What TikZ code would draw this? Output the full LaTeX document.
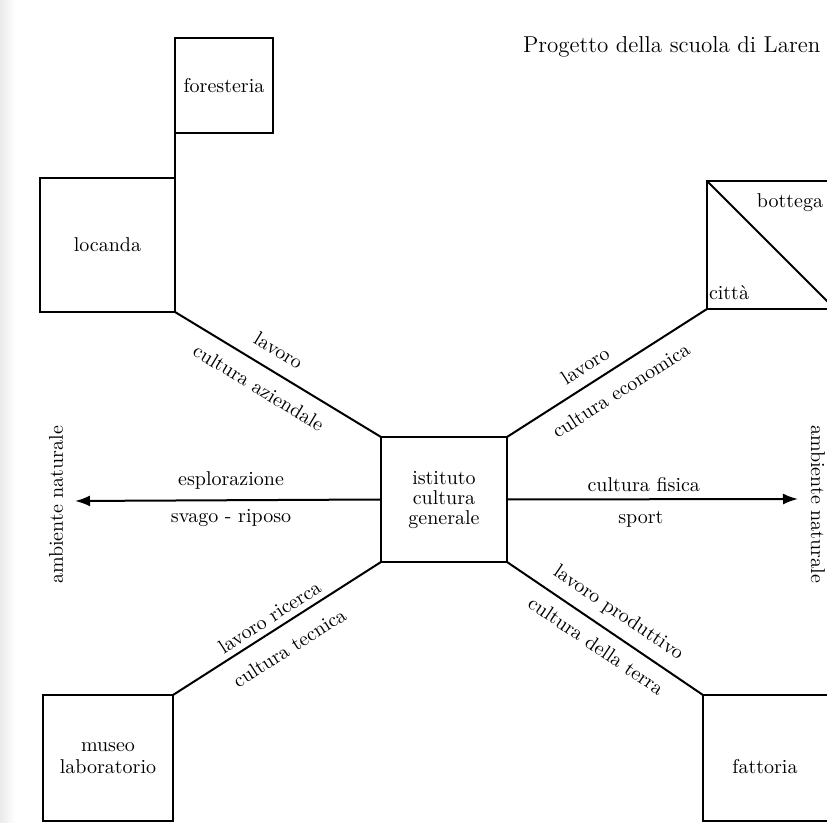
\documentclass[tikz,border=0pt]{standalone}
\usepackage{amsmath}
\usetikzlibrary{arrows.meta}

\begin{document}
\begin{tikzpicture}[x=0.5pt,y=-0.5pt,line width=1pt,
		casella/.style={draw,line width=1.1pt,inner sep=0pt,outer sep=0pt,align=center},
		voce/.style={inner sep=1pt},
		freccia/.style={-{Latex[length=7.5pt,width=5.5pt]}}]
		\useasboundingbox (0,0) rectangle (827,823);
		\clip (0,0) rectangle (827,823);
		\shade[left color=black!8,right color=white] (0,0) rectangle (15,823);

		% titolo
		\node[anchor=base east,font=\fontsize{11.5}{13}\selectfont] (titolo) at (828,53) {Progetto della scuola di Laren};

		% caselle
		\node[casella,minimum width=49pt,minimum height=47.5pt] (foresteria) at (224,85.5) {foresteria};
		\node[casella,minimum width=67.5pt,minimum height=67pt] (locanda) at (107.5,245) {locanda};
		\node[casella,minimum width=63pt,minimum height=62.5pt,font=\fontsize{10}{10}\selectfont] (istituto) at (444,499.5) {istituto\\cultura\\generale};
		\node[casella,minimum width=64pt,minimum height=64pt] (bottega) at (771,245) {};
		\node[casella,minimum width=65pt,minimum height=63pt,font=\fontsize{10}{11}\selectfont] (museo) at (108,758) {museo\\laboratorio};
		\node[casella,minimum width=66pt,minimum height=63pt] (fattoria) at (769,758) {};
		\node[voce] (bottegatxt) at (790,203) {bottega};
		\node[voce] (citta) at (729,293) {città};
		\node[voce] (fattoriatxt) at (765,767) {fattoria};
		\node[voce,rotate=90] (ambovest) at (56,505) {ambiente naturale};
		\node[voce,rotate=-90] (ambest) at (818,504) {ambiente naturale};
		\coordinate (ovest) at (75,501);
		\coordinate (est) at (798,499);

		% collegamenti
		\draw (foresteria.south west) -- (locanda.north east);
		\draw (bottega.north west) -- (bottega.south east);
		\draw (locanda.south east) -- (istituto.north west)
			node[voce,sloped,pos=0.45,above=5.5pt] (lavoro1) {lavoro}
			node[voce,sloped,pos=0.46,below=5.5pt] (aziendale) {cultura aziendale};
		\draw (istituto.north east) -- (bottega.south west)
			node[voce,sloped,pos=0.44,above=4.2pt] (lavoro2) {lavoro}
			node[voce,sloped,pos=0.51,below=6pt] (economica) {cultura economica};
		\draw (museo.north east) -- (istituto.south west)
			node[voce,sloped,pos=0.5,above=1.9pt] (ricerca) {lavoro ricerca}
			node[voce,sloped,pos=0.5,below=6.5pt] (tecnica) {cultura tecnica};
		\draw (istituto.south east) -- (fattoria.north west)
			node[voce,sloped,pos=0.51,above=4pt] (produttivo) {lavoro produttivo}
			node[voce,sloped,pos=0.51,below=4.5pt] (terra) {cultura della terra};
		\draw[freccia] (istituto.west) -- (ovest)
			node[voce,pos=0.49,above=4pt] (esplorazione) {esplorazione}
			node[voce,pos=0.49,below=3.2pt] (svago) {svago - riposo};
		\draw[freccia] (istituto.east) -- (est)
			node[voce,pos=0.47,above=2.5pt] (fisica) {cultura fisica}
			node[voce,pos=0.46,below=4.5pt] (sport) {sport};
	\end{tikzpicture}
\end{document}
